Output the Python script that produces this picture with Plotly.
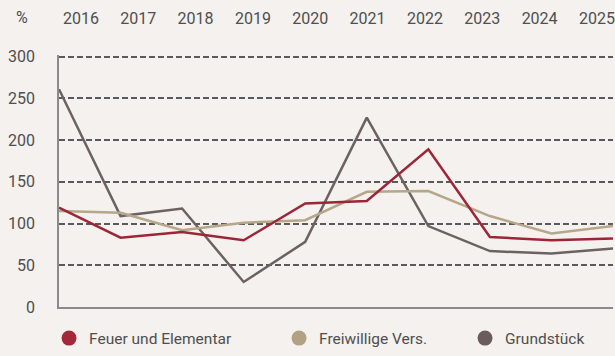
import plotly.graph_objects as go

# Jahre und Schadenquoten in %
years = ["2016", "2017", "2018", "2019", "2020", "2021", "2022", "2023", "2024", "2025"]
feuer = [119, 83, 90, 80, 124, 127, 189, 84, 80, 82]
freiwillig = [115, 113, 92, 101, 104, 138, 139, 109, 88, 97]
grundstueck = [261, 109, 118, 30, 78, 227, 97, 67, 64, 70]
y_ticks = [0, 50, 100, 150, 200, 250, 300]

series = [
    ("Grundstück", grundstueck, "#6d6262", "#6a5c5c"),
    ("Freiwillige Vers.", freiwillig, "#b6a68a", "#b3a184"),
    ("Feuer und Elementar", feuer, "#9c2637", "#a3293a"),
]
legend_widths = {"Feuer und Elementar": 185, "Freiwillige Vers.": 141, "Grundstück": 90}
legend_order = ["Feuer und Elementar", "Freiwillige Vers.", "Grundstück"]

idx = list(range(len(years)))
fig = go.Figure()

for name, vals, line_color, _ in series:
    fig.add_trace(go.Scatter(
        x=idx, y=vals, mode="lines", name=name, showlegend=False,
        line=dict(color=line_color, width=2.5),
    ))

# Legend entries as filled circles
for rank, name in enumerate(legend_order):
    marker_color = next(s[3] for s in series if s[0] == name)
    fig.add_trace(go.Scatter(
        x=[None], y=[None], mode="markers", name=name,
        marker=dict(color=marker_color, size=15, symbol="circle"),
        legendrank=rank + 1, legendwidth=legend_widths[name],
    ))

# Invisible trace carrying the top year axis
fig.add_trace(go.Scatter(x=idx, y=[None] * len(idx), xaxis="x2", mode="lines",
                         showlegend=False, hoverinfo="skip"))

text_color = "#4f4f4f"
font = dict(family="Roboto", size=16, color=text_color)
legend_font = dict(family="Roboto", size=15.5, color=text_color)

plot_w, plot_h = 556, 256

fig.update_layout(
    width=615, height=356,
    margin=dict(l=59, r=0, t=55, b=45),
    paper_bgcolor="#f4f1ee", plot_bgcolor="#f4f1ee",
    font=font,
    showlegend=True,
    legend=dict(orientation="h", x=(49 - 59) / plot_w, xref="paper", xanchor="left",
                y=-32 / plot_h, yref="paper", yanchor="middle",
                font=legend_font, itemwidth=30, tracegroupgap=0,
                bgcolor="rgba(0,0,0,0)"),
    xaxis=dict(range=[0, 9], showticklabels=False, showgrid=False,
               showline=True, linecolor="#8a8a8a", linewidth=1.5,
               zeroline=False, fixedrange=True),
    xaxis2=dict(overlaying="x", side="top", range=[-0.382, 9.28],
                tickvals=idx, ticktext=years, showgrid=False, zeroline=False,
                showline=False, ticks="", ticklabelstandoff=27,
                ticklabeloverflow="allow", tickfont=font),
    yaxis=dict(range=[0, 302], tickvals=y_ticks, showgrid=True,
               gridcolor="#5a5a5a", gridwidth=1.5, griddash="6px,3px",
               showline=True, linecolor="#8a8a8a", linewidth=1.5,
               zeroline=False, ticks="", ticklabelstandoff=19,
               tickfont=font),
    annotations=[dict(text="%", xref="paper", yref="paper", x=(22 - 59) / plot_w,
                      y=1 + 38 / plot_h, xanchor="center", yanchor="middle",
                      showarrow=False, font=font)],
)

fig.write_html("out.html")
